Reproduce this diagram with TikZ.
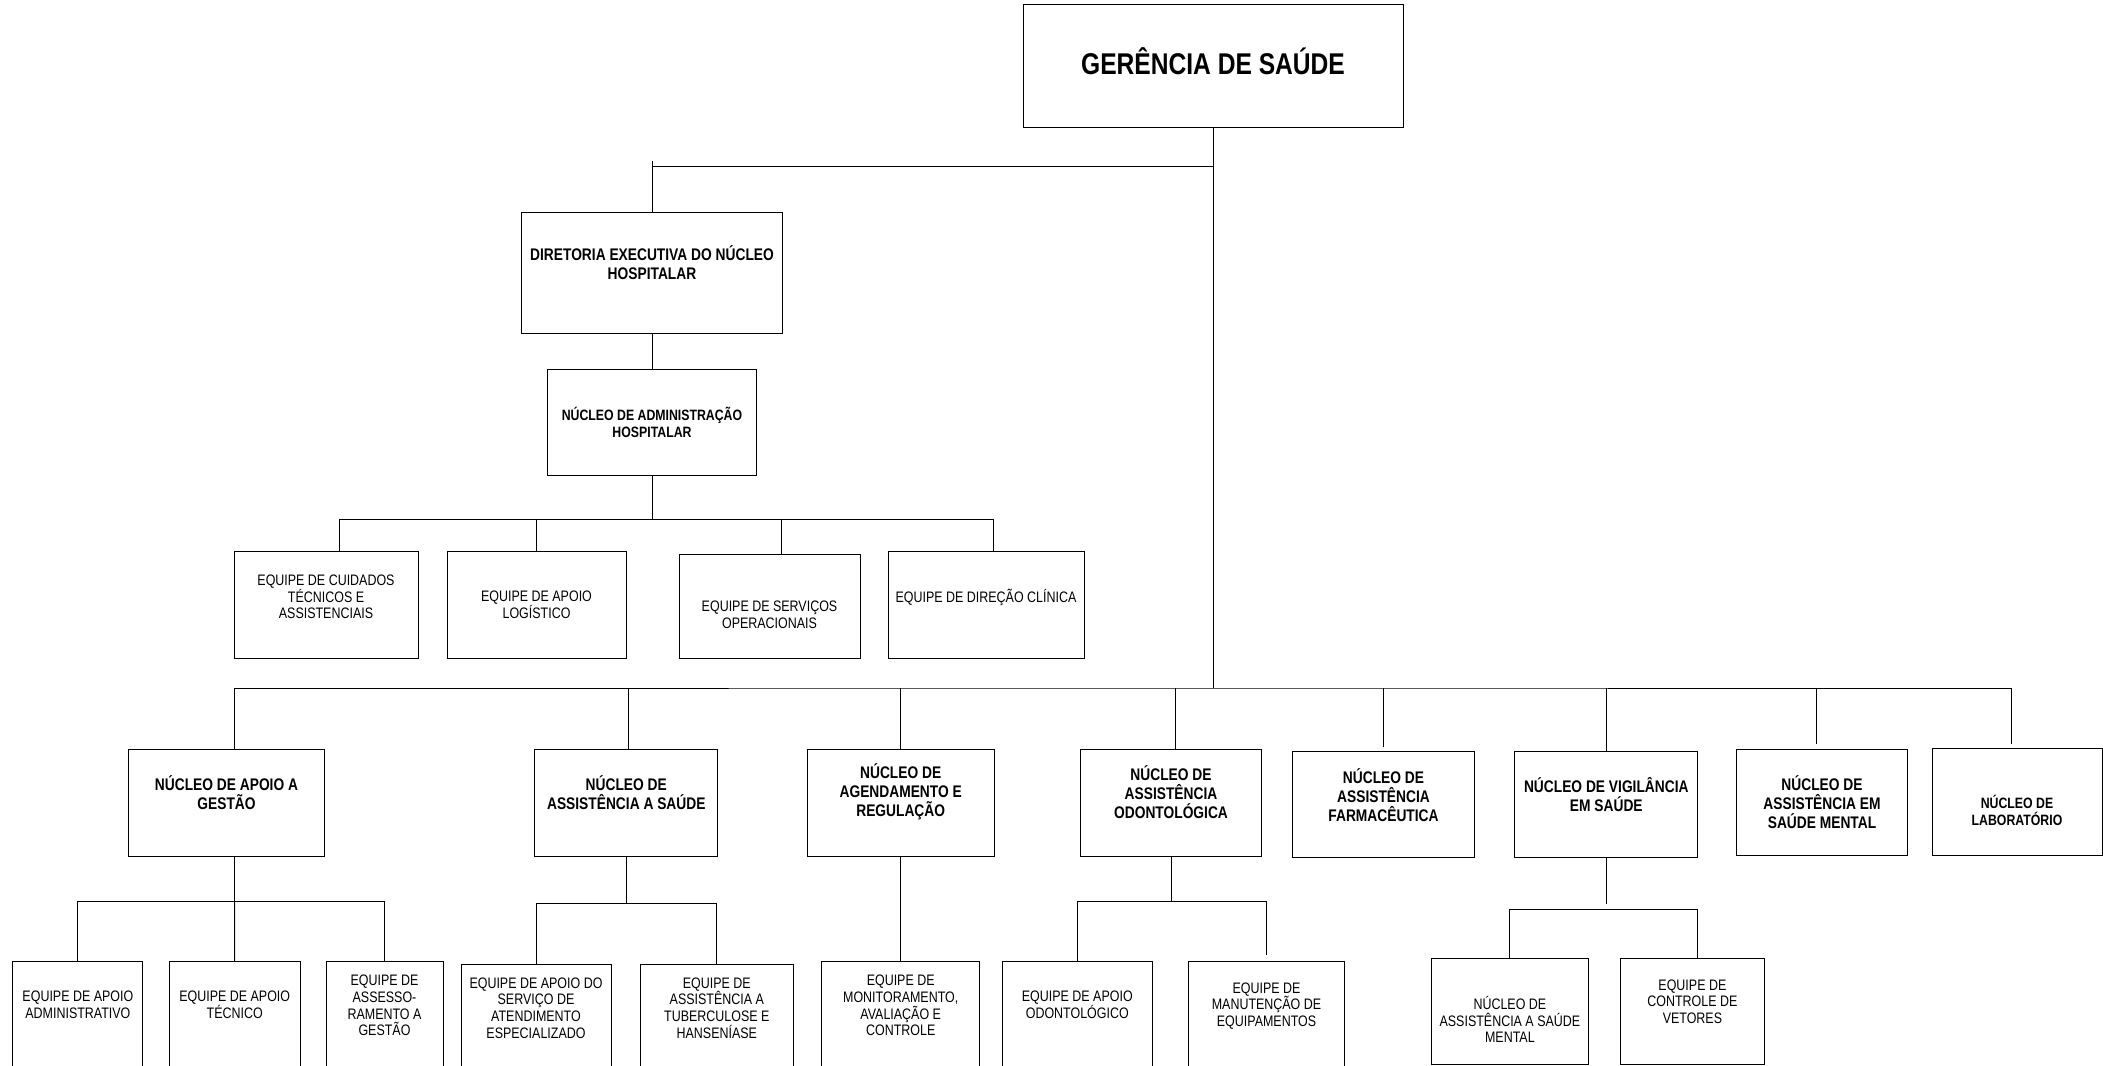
\documentclass[tikz,border=0pt]{standalone}
\usepackage{fontspec}
\setmainfont{Liberation Sans}[FakeStretch=0.82]
\tikzset{caixa/.style 2 args={
    draw,
    line width=1pt,
    inner sep=0pt,
    minimum width=#1,
    minimum height=#2},
  liga/.style={
    line width=1pt},
  titulo/.style={
    align=center,
    font=\bfseries\fontsize{30}{34}\selectfont},
  chefe/.style={
    align=center,
    font=\bfseries\fontsize{16.8}{19}\selectfont},
  chefep/.style={
    align=center,
    font=\bfseries\fontsize{15}{17}\selectfont},
  equipe/.style={
    align=center,
    font=\fontsize{15.2}{16.7}\selectfont}}

\begin{document}
\begin{tikzpicture}[x=1pt, y=-1pt]

\clip (0,0) rectangle (2103,1065);

\coordinate (ramo) at (1213,166);
\coordinate (barra) at (1213,688);

% topo
\node[caixa={380}{122}] (ger) at (1213,66) {};
\node[titulo] (tger) at (1213,61) {GERÊNCIA DE SAÚDE};

\node[caixa={261}{121}] (dir) at (652,272.5) {};
\node[chefe] (tdir) at (652,262.5) {DIRETORIA EXECUTIVA DO NÚCLEO\\HOSPITALAR};

\node[caixa={209}{106}] (adm) at (652,422) {};
\node[chefep] (tadm) at (652,422.5) {NÚCLEO DE ADMINISTRAÇÃO\\HOSPITALAR};

% equipes do nucleo hospitalar
\node[caixa={184}{107}] (cuid) at (326,604.5) {};
\node[equipe] (tcuid) at (326,597) {EQUIPE DE CUIDADOS\\TÉCNICOS E\\ASSISTENCIAIS};

\node[caixa={179}{107}] (log) at (536.5,604.5) {};
\node[equipe] (tlog) at (536.5,605) {EQUIPE DE APOIO\\LOGÍSTICO};

\node[caixa={181}{104}] (serv) at (769.5,606) {};
\node[equipe] (tserv) at (769.5,615) {EQUIPE DE SERVIÇOS\\OPERACIONAIS};

\node[caixa={196}{107}] (dirc) at (986,604.5) {};
\node[equipe] (tdirc) at (986,597) {EQUIPE DE DIREÇÃO CLÍNICA};

% nucleos
\node[caixa={196}{107}] (gest) at (226.5,802.5) {};
\node[chefe] (tgest) at (226.5,792.5) {NÚCLEO DE APOIO A\\GESTÃO};

\node[caixa={183}{107}] (assis) at (626.3,802.5) {};
\node[chefe] (tassis) at (626.3,792.5) {NÚCLEO DE\\ASSISTÊNCIA A SAÚDE};

\node[caixa={187}{107}] (agen) at (900.7,802.5) {};
\node[chefe] (tagen) at (900.7,792) {NÚCLEO DE\\AGENDAMENTO E\\REGULAÇÃO};

\node[caixa={181.6}{107}] (odon) at (1171,802.5) {};
\node[chefe] (todon) at (1171,792) {NÚCLEO DE\\ASSISTÊNCIA\\ODONTOLÓGICA};

\node[caixa={182}{106}] (farm) at (1383.5,804.7) {};
\node[chefe] (tfarm) at (1383.5,795) {NÚCLEO DE\\ASSISTÊNCIA\\FARMACÊUTICA};

\node[caixa={183}{106}] (vigi) at (1606.3,804.7) {};
\node[chefe] (tvigi) at (1606.3,794.5) {NÚCLEO DE VIGILÂNCIA\\EM SAÚDE};

\node[caixa={170.4}{106.4}] (ment) at (1822,802.5) {};
\node[chefe] (tment) at (1822,802) {NÚCLEO DE\\ASSISTÊNCIA EM\\SAÚDE MENTAL};

\node[caixa={170}{106.7}] (lab) at (2017,802.3) {};
\node[chefep] (tlab) at (2017,810.5) {NÚCLEO DE\\LABORATÓRIO};

% equipes dos nucleos
\node[caixa={130}{107}] (adve) at (77.9,1015.2) {};
\node[equipe] (tadve) at (77.9,1005) {EQUIPE DE APOIO\\ADMINISTRATIVO};

\node[caixa={131}{107}] (tecn) at (234.7,1015.2) {};
\node[equipe] (ttecn) at (234.7,1005) {EQUIPE DE APOIO\\TÉCNICO};

\node[caixa={117}{107}] (asse) at (384.5,1015.2) {};
\node[equipe] (tasse) at (384.5,1005.5) {EQUIPE DE\\ASSESSO-\\RAMENTO A\\GESTÃO};

\node[caixa={150}{107}] (aten) at (536,1017.8) {};
\node[equipe] (taten) at (536,1008) {EQUIPE DE APOIO DO\\SERVIÇO DE\\ATENDIMENTO\\ESPECIALIZADO};

\node[caixa={153}{107}] (tube) at (716.8,1017.8) {};
\node[equipe] (ttube) at (716.8,1008) {EQUIPE DE\\ASSISTÊNCIA A\\TUBERCULOSE E\\HANSENÍASE};

\node[caixa={157.5}{107}] (moni) at (900.7,1015.2) {};
\node[equipe] (tmoni) at (900.7,1005.5) {EQUIPE DE\\MONITORAMENTO,\\AVALIAÇÃO E\\CONTROLE};

\node[caixa={150.5}{107}] (apod) at (1077.3,1015.2) {};
\node[equipe] (tapod) at (1077.3,1005) {EQUIPE DE APOIO\\ODONTOLÓGICO};

\node[caixa={156.3}{107}] (manu) at (1266.5,1015.2) {};
\node[equipe] (tmanu) at (1266.5,1006) {EQUIPE DE\\MANUTENÇÃO DE\\EQUIPAMENTOS};

\node[caixa={157}{106}] (nasm) at (1509.9,1011.3) {};
\node[equipe] (tnasm) at (1509.9,1019.5) {NÚCLEO DE\\ASSISTÊNCIA A SAÚDE\\MENTAL};

\node[caixa={143.5}{106}] (veto) at (1692.4,1011.2) {};
\node[equipe] (tveto) at (1692.4,1001.7) {EQUIPE DE\\CONTROLE DE\\VETORES};

% ligacoes
\draw[liga] (ger.south) -- (barra);
\draw[liga] (ramo) -- (ramo -| dir.north);
\draw[liga] (dir.north) -- ++(0,-51);
\draw[liga] (dir.south) -- (adm.north);

\draw[liga] (adm.south) -- ++(0,44) coordinate (badm);
\draw[liga] ([xshift=13]cuid.north) |- (badm) -| ([xshift=7]dirc.north);
\draw[liga] (log.north) -- (log.north |- badm);
\draw[liga] ([xshift=11.5]serv.north) -- ([xshift=11.5]serv.north |- badm);

\draw[liga, shorten >=4] ([xshift=8]gest.north) |- (barra) -| ([xshift=-6]lab.north);
\draw[liga] ([xshift=2]assis.north) -- ([xshift=2]assis.north |- barra);
\draw[liga] (agen.north) -- (agen.north |- barra);
\draw[liga] ([xshift=4]odon.north) -- ([xshift=4]odon.north |- barra);
\draw[liga, shorten <=4] (farm.north) -- (farm.north |- barra);
\draw[liga] (vigi.north) -- (vigi.north |- barra);
\draw[liga, shorten <=5] ([xshift=-6]ment.north) -- ([xshift=-6]ment.north |- barra);

\draw[liga] ([xshift=8]gest.south) -- ++(0,44.7) coordinate (bgest);
\draw[liga] (adve.north) |- (bgest) -| (asse.north);
\draw[liga] (tecn.north) -- (bgest);

\draw[liga] (assis.south) -- ++(0,46.7) coordinate (bassis);
\draw[liga] (aten.north) |- (bassis) -| (tube.north);

\draw[liga] (agen.south) -- (moni.north);

\draw[liga] (odon.south) -- ++(0,44.7) coordinate (bodon);
\draw[liga, shorten >=6.4] (apod.north) |- (bodon) -| (manu.north);

\path (vigi.south) ++(0,51.3) coordinate (bvigi);
\draw[liga, shorten >=5.7] (vigi.south) -- (bvigi);
\draw[liga] (nasm.north) |- (bvigi) -| ([xshift=5.4]veto.north);

\end{tikzpicture}
\end{document}
